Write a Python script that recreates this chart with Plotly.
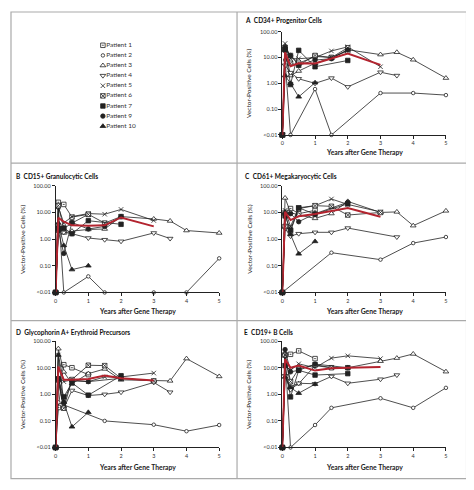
import plotly.graph_objects as go

# page body has an 8px margin; the figure is sized so the picture lines up
PAGE_OFF = 8
W, H = 474 - PAGE_OFF, 490 - PAGE_OFF

# ---------------- data ----------------
YEARS = [0, 1 / 12, 0.25, 0.5, 1, 1.5, 2, 3, 3.5, 4, 5]
MEAN_YEARS = [0, 1 / 12, 0.25, 0.5, 1, 1.5, 2, 3]
N = None
L = 0.01  # "<0.01"

PATIENTS = ["Patient 1", "Patient 2", "Patient 3", "Patient 4", "Patient 5",
            "Patient 6", "Patient 7", "Patient 9", "Patient 10"]

Y_TICKS = [0.01, 0.1, 1, 10, 100]
Y_TICK_TEXT = ["<0.01", "0.10", "1.00", "10.00", "100.00"]
X_TICKS = [0, 1, 2, 3, 4, 5]

CD34 = [
    [L, 20, 12, 6, 11, 10, 18, N, N, N, N],
    [L, 8, L, N, 0.6, L, N, 0.42, N, 0.42, 0.35],
    [L, 20, 2, 3, 6, 9.5, 20, 13, 16, 8.2, 1.6],
    [L, 5, 2.6, 1.5, 1.0, 1.6, 0.73, 2.7, 2.0, N, N],
    [L, 35, 9, 9, 10, 18, 26, 4.4, N, N, N],
    [L, 25, 6, 5, 12, 10, 24, N, N, N, N],
    [L, 20, 0.9, 19, 4.4, N, 7.7, N, N, N, N],
    [L, 25, 12, 5, 8, 9, 20, N, N, N, N],
    [L, 2, 1.0, 0.3, 1.06, N, N, N, N, N, N],
]
CD34_MEAN = [L, 16, 4.6, 6, 5.9, 9, 14.4, 5.2]

CD15 = [
    [L, 24, 20, 6.7, 8.5, N, N, N, N, N, N],
    [L, 15, L, N, 0.04, L, N, L, N, L, 0.19],
    [L, 3, 1.7, 2, 2.3, 2.4, 7, 5.7, 4.8, 2.1, 1.7],
    [L, 2.5, 1.8, 1.6, 1.1, 0.95, 0.83, 1.7, 1.05, N, N],
    [L, 16, 4, 7, 9.1, 8.6, 13, 5.0, N, N, N],
    [L, 18, 2.5, 4, 8.5, 4, 7, N, N, N, N],
    [L, 2.6, 2.6, 1.6, 4.9, N, 3.6, N, N, N, N],
    [L, 2, 0.29, 4.2, 2.4, 3, 7, N, N, N, N],
    [L, 4, 0.58, 0.072, 0.1, N, N, N, N, N, N],
]
CD15_MEAN = [L, 6.3, 4.5, 3.3, 3.2, 3.3, 6.5, 3.0]

CD61 = [
    [L, 10, 14, 9, 12, N, N, N, N, N, N],
    [L, N, N, N, N, 0.31, N, 0.17, N, 0.71, 1.2],
    [L, 35, 10, 8, 6, 9.1, 26, 10, 10.5, 3.2, 11.5],
    [L, 2.5, 1.3, 1.6, 1.8, 1.8, 2.6, N, 1.2, N, N],
    [L, 12, 3, 15, 18, 32, 20, 10.5, N, N, N],
    [L, 3, 2, 14, 18, 17, 8, 10, N, N, N],
    [L, 7.4, 2.2, 15, 8.6, N, 21, N, N, N, N],
    [L, 8, 9, 4.5, 9, N, 24, N, N, N, N],
    [L, 10, 1.5, 0.28, 0.82, N, N, N, N, N, N],
]
CD61_MEAN = [L, 10.5, 5.2, 7.2, 8.7, 11, 14.7, 6.9]

GLYA = [
    [L, 0.32, 13, 10, 5.5, N, N, N, N, N, N],
    [L, 0.5, 0.4, N, N, 0.1, N, 0.072, N, 0.041, 0.07],
    [L, 52, 7, 2.5, 6, 9, 3.5, 3.2, 3.2, 22, 4.7],
    [L, 3, 0.3, 1.4, 0.9, 1.0, 1.2, 2.8, 1.2, N, N],
    [L, 30, 3, 3.5, 3, 4.5, 4.5, 6.3, N, N, N],
    [L, 3.5, 0.3, 3.6, 12.4, 12, 4, 3.2, N, N, N],
    [L, 3.8, 0.8, 2.7, 0.93, N, 5, N, N, N, N],
    [L, 4, 0.5, 3.2, 3, N, 4, N, N, N, N],
    [L, 30, 0.5, 0.06, 0.21, N, N, N, N, N, N],
]
GLYA_MEAN = [L, 11, 3.5, 3.5, 3.8, 5.1, 4.0, 3.3]

CD19 = [
    [L, 30, 32, 43, 22, N, N, N, N, N, N],
    [L, 30, L, N, 0.07, 0.31, N, 0.71, N, 0.31, 1.75],
    [L, 35, 2, 2.5, 12, 10, 10, 17.6, 23, 33, 7.1],
    [L, 5, 1.5, 2.6, 2.5, 4.7, 2.6, 3.7, 5.3, N, N],
    [L, 12, 8, 14, 10, 23, 28, 22, N, N, N],
    [L, 30, 3, 9, 13, 10, 10, N, N, N, N],
    [L, 12, 0.8, 8, 5.3, N, 6, N, N, N, N],
    [L, 48, 7, 8, 13.7, N, 10, N, N, N, N],
    [L, 4.5, 1.8, 1.1, 2.4, N, N, N, N, N, N],
]
CD19_MEAN = [L, 21, 10, 12, 7.8, 9.5, 10, 10.7]

# ---------------- styling ----------------
FONT = "Lato"
RED = "#b3242f"
INK = "#222222"
GRID_C = "#aaaaaa"

# symbol, fill, size
STYLE = [
    ("square-dot", "white", 4.5),
    ("circle", "white", 3.5),
    ("triangle-up", "white", 5),
    ("triangle-down", "white", 5),
    ("x-thin", INK, 4.5),
    ("square-x", "white", 4.5),
    ("square", INK, 4.5),
    ("circle", INK, 4.5),
    ("triangle-up", INK, 5),
]


def px(x):
    return (x - PAGE_OFF) / W


def py(y):
    return 1 - (y - PAGE_OFF) / H


# panel geometry in pixels: (x0, x1, ytop, ybottom), title x, title y, x-title y
PANELS = [
    ("A", "CD34+ Progenitor Cells", CD34, CD34_MEAN, (282.7, 447.7, 29, 133.5), 243, 17.3, 150.5),
    ("B", "CD15+ Granulocytic Cells", CD15, CD15_MEAN, (54, 219, 185, 293), 12.3, 175.7, 311.5),
    ("C", "CD61+ Megakaryocytic Cells", CD61, CD61_MEAN, (282.7, 447.7, 185, 293), 243.5, 175.7, 311.5),
    ("D", "Glycophorin A+ Erythroid Precursors", GLYA, GLYA_MEAN, (54, 219, 342.3, 450), 12.3, 333.3, 469.5),
    ("E", "CD19+ B Cells", CD19, CD19_MEAN, (282.7, 447.7, 342.3, 450), 242.5, 333.3, 469.5),
]

fig = go.Figure()
layout = {}
annotations = []

for i, (letter, title, data, mean, (x0, x1, yt, yb), tx, ty, xty) in enumerate(PANELS, start=1):
    xa = "x" if i == 1 else f"x{i}"
    ya = "y" if i == 1 else f"y{i}"
    for vals, (sym, fill, size), name in zip(data, STYLE, PATIENTS):
        xs = [t for t, v in zip(YEARS, vals) if v is not None]
        ys = [v for v in vals if v is not None]
        fig.add_trace(go.Scatter(
            x=xs, y=ys, mode="lines+markers", name=name, showlegend=False,
            xaxis=xa, yaxis=ya, cliponaxis=False,
            line=dict(color=INK, width=0.8),
            marker=dict(symbol=sym, size=size, color=fill,
                        line=dict(color=INK, width=0.8)),
        ))
    fig.add_trace(go.Scatter(
        x=MEAN_YEARS, y=mean, mode="lines", name="Mean", showlegend=False,
        xaxis=xa, yaxis=ya, cliponaxis=False,
        line=dict(color=RED, width=2),
    ))
    axcommon = dict(showline=True, linecolor=INK, linewidth=0.8, ticks="outside",
                    ticklen=3, tickwidth=0.8, tickcolor=INK, showgrid=False,
                    zeroline=False, tickfont=dict(family=FONT, size=5.5, color="#333"))
    layout["xaxis" if i == 1 else f"xaxis{i}"] = dict(
        domain=[px(x0), px(x1)], range=[0, 5], tickvals=X_TICKS,
        anchor=ya, **axcommon)
    layout["yaxis" if i == 1 else f"yaxis{i}"] = dict(
        domain=[py(yb), py(yt)], type="log", range=[-2, 2],
        tickvals=Y_TICKS, ticktext=Y_TICK_TEXT, anchor=xa, **axcommon)
    annotations.append(dict(
        text=f"<b>{letter}</b>  <b>{title}</b>", x=px(tx), y=py(ty),
        xref="paper", yref="paper", xanchor="left", yanchor="middle",
        showarrow=False, font=dict(family=FONT, size=6.5, color="#111")))
    annotations.append(dict(
        text="Vector-Positive Cells (%)", x=px(x0 - 34), y=py((yt + yb) / 2),
        xref="paper", yref="paper", xanchor="center", yanchor="middle",
        textangle=-90, showarrow=False, font=dict(family=FONT, size=6.5, color="#222")))
    annotations.append(dict(
        text="<b>Years after Gene Therapy</b>", x=px((x0 + x1) / 2), y=py(xty),
        xref="paper", yref="paper", xanchor="center", yanchor="middle",
        showarrow=False, font=dict(family=FONT, size=6.8, color="#222")))

# ---------------- key (top-left box) ----------------
KEY_IDX = list(range(len(PATIENTS)))
for k, ((sym, fill, size), name) in enumerate(zip(STYLE, PATIENTS)):
    fig.add_trace(go.Scatter(
        x=[6.7], y=[k], mode="markers", showlegend=False, xaxis="x6", yaxis="y6",
        cliponaxis=False, hoverinfo="skip",
        marker=dict(symbol=sym, size=size, color=fill, line=dict(color=INK, width=0.8)),
    ))
fig.add_trace(go.Scatter(
    x=[10] * len(PATIENTS), y=KEY_IDX, mode="text", text=PATIENTS,
    textposition="middle right", showlegend=False, xaxis="x6", yaxis="y6",
    cliponaxis=False, textfont=dict(family=FONT, size=6.5, color="#333"),
))
layout["xaxis6"] = dict(domain=[px(95), px(175)], range=[0, 80], visible=False, anchor="y6")
layout["yaxis6"] = dict(domain=[py(129.8), py(37.6)], range=[8.5, -0.5], visible=False, anchor="x6")

# ---------------- panel frames ----------------
shapes = []
frame = dict(type="line", xref="paper", yref="paper", line=dict(color=GRID_C, width=1.2))
shapes.append(dict(type="rect", xref="paper", yref="paper", x0=px(9), x1=px(468.5),
                   y0=py(481.5), y1=py(9), line=dict(color=GRID_C, width=1.2)))
shapes.append(dict(frame, x0=px(237), x1=px(237), y0=py(481.5), y1=py(9)))
shapes.append(dict(frame, x0=px(9), x1=px(468.5), y0=py(162), y1=py(162)))
shapes.append(dict(frame, x0=px(9), x1=px(468.5), y0=py(321.5), y1=py(321.5)))

fig.update_layout(
    width=W, height=H, autosize=False,
    margin=dict(l=0, r=0, t=0, b=0),
    paper_bgcolor="white", plot_bgcolor="white",
    font=dict(family=FONT),
    annotations=annotations, shapes=shapes, showlegend=False,
    **layout,
)

fig.write_html("out.html")
